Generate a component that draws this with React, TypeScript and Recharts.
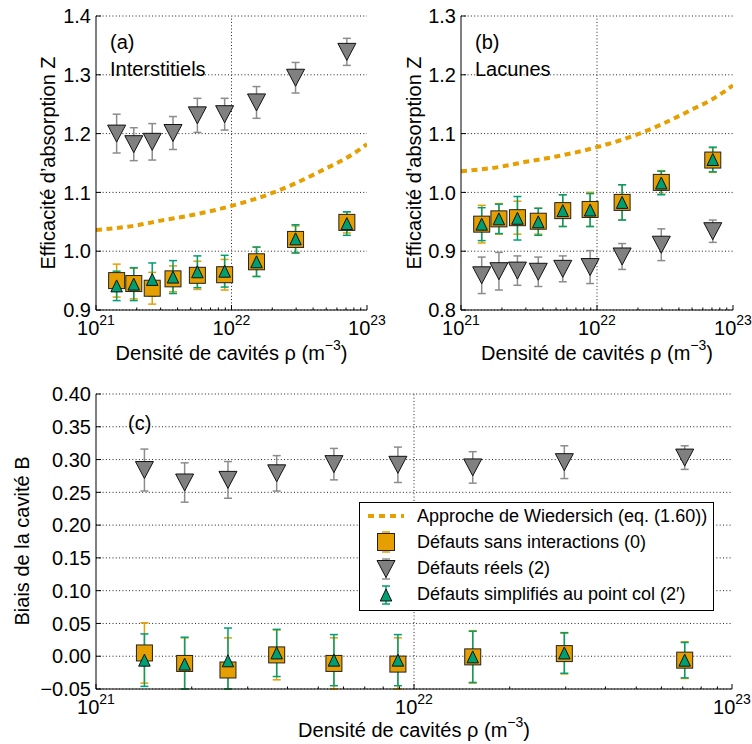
import React from 'react';
import { ComposedChart, Scatter, Line, XAxis, YAxis, CartesianGrid, ErrorBar, ReferenceLine, Legend } from 'recharts';

const FONT = '"Liberation Sans", Arial, Helvetica, sans-serif';
const FS = 20;
const ORANGE = '#E69F00';
const TEAL = '#009E73';
const GRAY = '#808080';
const ERR_GRAY = '#8c8c8c';

// cavity densities (m^-3)
const densities = [1.42e21, 1.9e21, 2.6e21, 3.7e21, 5.6e21, 8.9e21, 1.53e22, 2.97e22, 7.1e22];

// (a) Interstitiels
const zA_sans = [0.950, 0.945, 0.937, 0.953, 0.959, 0.960, 0.982, 1.020, 1.049];
const zA_sansErr = [0.028, 0.026, 0.027, 0.022, 0.024, 0.026, 0.025, 0.023, 0.018];
const zA_reels = [1.200, 1.182, 1.186, 1.201, 1.231, 1.233, 1.253, 1.295, 1.339];
const zA_reelsErr = [0.033, 0.028, 0.031, 0.028, 0.029, 0.027, 0.027, 0.026, 0.023];
const zA_col = [0.941, 0.944, 0.952, 0.956, 0.965, 0.966, 0.982, 1.021, 1.047];
const zA_colErr = [0.025, 0.028, 0.028, 0.028, 0.027, 0.027, 0.025, 0.024, 0.020];

// (b) Lacunes
const zB_sans = [0.946, 0.955, 0.957, 0.951, 0.969, 0.971, 0.983, 1.017, 1.055];
const zB_sansErr = [0.032, 0.026, 0.028, 0.022, 0.027, 0.029, 0.030, 0.020, 0.021];
const zB_reels = [0.859, 0.866, 0.867, 0.865, 0.870, 0.873, 0.891, 0.911, 0.934];
const zB_reelsErr = [0.031, 0.032, 0.025, 0.025, 0.022, 0.028, 0.022, 0.027, 0.019];
const zB_col = [0.946, 0.955, 0.956, 0.950, 0.969, 0.970, 0.983, 1.016, 1.056];
const zB_colErr = [0.028, 0.025, 0.037, 0.023, 0.027, 0.028, 0.030, 0.020, 0.021];

// (c) Biais
const bC_sans = [0.005, -0.011, -0.021, 0.002, -0.011, -0.012, -0.001, 0.004, -0.006];
const bC_sansErr = [0.046, 0.039, 0.049, 0.038, 0.039, 0.040, 0.040, 0.031, 0.028];
const bC_reels = [0.284, 0.265, 0.269, 0.279, 0.293, 0.292, 0.288, 0.296, 0.303];
const bC_reelsErr = [0.032, 0.030, 0.028, 0.027, 0.024, 0.027, 0.024, 0.025, 0.018];
const bC_col = [-0.006, -0.012, -0.007, 0.005, -0.006, -0.006, -0.001, 0.005, -0.006];
const bC_colErr = [0.040, 0.041, 0.050, 0.036, 0.039, 0.039, 0.039, 0.031, 0.027];

// Wiedersich approach (eq. 1.60)
const wiedX = [1e21, 2e21, 3e21, 5e21, 1e22, 2e22, 3e22, 5e22, 7e22, 1e23];
const wiedZ = [1.036, 1.044, 1.052, 1.061, 1.077, 1.099, 1.116, 1.141, 1.158, 1.182];

const majorTicks = [1e21, 1e22, 1e23];
const minorTicks = [2e21, 3e21, 4e21, 5e21, 6e21, 7e21, 8e21, 9e21, 2e22, 3e22, 4e22, 5e22, 6e22, 7e22, 8e22, 9e22];
const xTicks = [...majorTicks, ...minorTicks].sort((a, b) => a - b);
const yTicksA = [0.9, 1.0, 1.1, 1.2, 1.3, 1.4];
const yTicksB = [0.8, 0.9, 1.0, 1.1, 1.2, 1.3];
const yTicksC = [-0.05, 0.0, 0.05, 0.10, 0.15, 0.20, 0.25, 0.30, 0.35, 0.40];

const legendNames = [
  'Approche de Wiedersich (eq. (1.60))',
  'Défauts sans interactions (0)',
  'Défauts réels (2)',
  'Défauts simplifiés au point col (2\u2032)',
];

const pts = (ys: number[], errs: number[]) => densities.map((x, i) => ({ x, val: ys[i], err: errs[i] }));
const wiedData = wiedX.map((x, i) => ({ x, z: wiedZ[i] }));

const isMajor = (v: number) => Math.abs(Math.log10(v) - Math.round(Math.log10(v))) < 1e-6;
const fmt1 = (v: number) => v.toFixed(1);
const fmt2 = (v: number) => (v < -1e-9 ? '\u2212' : '') + Math.abs(v).toFixed(2);

const XTickBottom = (p: any) => {
  const { x, y, payload } = p;
  const v = payload.value;
  const major = isMajor(v);
  return (
    <g>
      <line x1={x} x2={x} y1={y} y2={y - (major ? 5 : 2.5)} stroke="#000" strokeWidth={1} />
      {major && (
        <text x={x} y={y + 24.5} textAnchor="middle" fontSize={FS} fontFamily={FONT} fill="#000">
          <tspan>10</tspan>
          <tspan dy={-9.5} fontSize={14}>{Math.round(Math.log10(v))}</tspan>
        </text>
      )}
    </g>
  );
};
const XTickTop = (p: any) => {
  const { x, y, payload } = p;
  const major = isMajor(payload.value);
  return <line x1={x} x2={x} y1={y} y2={y + (major ? 5 : 2.5)} stroke="#000" strokeWidth={1} />;
};
const YTickLeft = (p: any) => {
  const { x, y, payload, fmt } = p;
  return (
    <g>
      <line x1={x} x2={x + 5} y1={y} y2={y} stroke="#000" strokeWidth={1} />
      <text x={x - 5} y={y} dy="0.36em" textAnchor="end" fontSize={FS} fontFamily={FONT} fill="#000">
        {fmt(payload.value)}
      </text>
    </g>
  );
};
const YTickRight = (p: any) => {
  const { x, y } = p;
  return <line x1={x} x2={x - 5} y1={y} y2={y} stroke="#000" strokeWidth={1} />;
};

const SquareShape = (p: any) => {
  const { cx, cy } = p;
  const s = 16;
  return <rect x={cx - s / 2} y={cy - s / 2} width={s} height={s} fill={ORANGE} stroke="#222" strokeWidth={1} />;
};
const TriDownShape = (p: any) => {
  const { cx, cy } = p;
  const w = 18, h = 17;
  return <path d={`M${cx - w / 2},${cy - h / 2}L${cx + w / 2},${cy - h / 2}L${cx},${cy + h / 2}Z`} fill={GRAY} stroke="#111" strokeWidth={1} />;
};
const TriUpShape = (p: any) => {
  const { cx, cy } = p;
  const w = 11.5, h = 12;
  return <path d={`M${cx},${cy - h / 2}L${cx + w / 2},${cy + h / 2}L${cx - w / 2},${cy + h / 2}Z`} fill={TEAL} stroke="#111" strokeWidth={1} />;
};

const LegendBox = () => {
  const sample = (i: number) => {
    const cx = 26, cy = 13;
    if (i === 0) return <line x1={8} x2={44} y1={cy} y2={cy} stroke={ORANGE} strokeWidth={4} strokeDasharray="6 5" />;
    const eb = (c: string, h: number) => (
      <g stroke={c} strokeWidth={1.5}>
        <line x1={cx} x2={cx} y1={cy - h} y2={cy + h} />
        <line x1={cx - 4} x2={cx + 4} y1={cy - h} y2={cy - h} />
        <line x1={cx - 4} x2={cx + 4} y1={cy + h} y2={cy + h} />
      </g>
    );
    if (i === 1) return <g>{eb(ORANGE, 10)}<rect x={cx - 8.5} y={cy - 8.5} width={17} height={17} fill={ORANGE} stroke="#222" /></g>;
    if (i === 2) return <g>{eb(ERR_GRAY, 10)}<path d={`M${cx - 9},${cy - 8.5}L${cx + 9},${cy - 8.5}L${cx},${cy + 8.5}Z`} fill={GRAY} stroke="#111" /></g>;
    return <g>{eb(TEAL, 9)}<path d={`M${cx},${cy - 6}L${cx + 5.75},${cy + 6}L${cx - 5.75},${cy + 6}Z`} fill={TEAL} stroke="#111" /></g>;
  };
  return (
    <div style={{ width: 355, height: 109, border: '1px solid #000', background: '#fff', boxSizing: 'border-box', position: 'relative', fontFamily: FONT, fontSize: 18, color: '#000' }}>
      {legendNames.map((name, i) => (
        <div key={i} style={{ position: 'absolute', left: 0, top: i * 26.3, height: 26, display: 'flex', alignItems: 'center', whiteSpace: 'nowrap' }}>
          <svg width={52} height={26} style={{ display: 'block' }}>{sample(i)}</svg>
          <span style={{ marginLeft: 5 }}>{name}</span>
        </div>
      ))}
    </div>
  );
};

type PanelProps = {
  width: number; height: number; margin: any; xH: number; yDomain: [number, number]; yTicks: number[]; yFmt: (v: number) => string;
  sans: any[]; reels: any[]; col: any[]; wied?: any[]; legend?: boolean;
};

// error bar extent limited to the visible y range (the reference clips bars at the frame)
const clippedErr = (lo: number, hi: number) => (d: any) => {
  const v = d.val;
  return [Math.max(0, Math.min(d.err, v - lo)), Math.max(0, Math.min(d.err, hi - v))];
};

const Panel = ({ width, height, margin, xH, yDomain, yTicks, yFmt, sans, reels, col, wied, legend }: PanelProps) => {
  const ek = clippedErr(yDomain[0], yDomain[1]);
  return (
    <ComposedChart width={width} height={height} margin={margin}>
      <CartesianGrid xAxisId="b" yAxisId="l" vertical={false} stroke="#222" strokeDasharray="1 2.3" />
      <ReferenceLine xAxisId="b" yAxisId="l" x={1e22} stroke="#222" strokeDasharray="1 2.3" />
      <XAxis xAxisId="b" dataKey="x" type="number" scale="log" domain={[1e21, 1e23]} allowDataOverflow ticks={xTicks} interval={0}
        tick={<XTickBottom />} tickLine={false} tickSize={0} tickMargin={0} axisLine={{ stroke: '#000' }} height={xH} orientation="bottom" />
      <XAxis xAxisId="t" dataKey="x" type="number" scale="log" domain={[1e21, 1e23]} allowDataOverflow ticks={xTicks} interval={0}
        tick={<XTickTop />} tickLine={false} tickSize={0} tickMargin={0} axisLine={{ stroke: '#000' }} height={0} orientation="top" />
      <YAxis yAxisId="l" type="number" domain={yDomain} allowDataOverflow ticks={yTicks} interval={0}
        tick={<YTickLeft fmt={yFmt} />} tickLine={false} tickSize={0} tickMargin={0} axisLine={{ stroke: '#000' }} width={60} orientation="left" />
      <YAxis yAxisId="r" type="number" domain={yDomain} allowDataOverflow ticks={yTicks} interval={0}
        tick={<YTickRight />} tickLine={false} tickSize={0} tickMargin={0} axisLine={{ stroke: '#000' }} width={0} orientation="right" />
      {wied && (
        <Line xAxisId="b" yAxisId="l" data={wied} dataKey="z" type="monotone" dot={false} stroke={ORANGE} strokeWidth={4}
          strokeDasharray="6 4.5" isAnimationActive={false} legendType="none" />
      )}
      <Scatter xAxisId="b" yAxisId="l" data={sans} dataKey="val" shape={SquareShape} isAnimationActive={false}>
        <ErrorBar dataKey={ek} direction="y" width={4} stroke={ORANGE} strokeWidth={1.5} />
      </Scatter>
      <Scatter xAxisId="b" yAxisId="l" data={reels} dataKey="val" shape={TriDownShape} isAnimationActive={false}>
        <ErrorBar dataKey={ek} direction="y" width={4} stroke={ERR_GRAY} strokeWidth={1.5} />
      </Scatter>
      <Scatter xAxisId="b" yAxisId="l" data={col} dataKey="val" shape={TriUpShape} isAnimationActive={false}>
        <ErrorBar dataKey={ek} direction="y" width={4} stroke={TEAL} strokeWidth={1.5} />
      </Scatter>
      {legend && (
        <Legend content={() => <LegendBox />} layout="horizontal" verticalAlign="middle" align="center"
          wrapperStyle={{ left: 359, top: 132, width: 355, height: 109 }} />
      )}
    </ComposedChart>
  );
};

const XLabel = ({ x, y }: { x: number; y: number }) => (
  <text x={x} y={y} textAnchor="middle" fontSize={FS} fontFamily={FONT} fill="#000">
    <tspan>Densité de cavités ρ (m</tspan>
    <tspan dy={-10} fontSize={14}>{'\u22123'}</tspan>
    <tspan dy={10}>)</tspan>
  </text>
);
const YLabel = ({ x, y, text }: { x: number; y: number; text: string }) => (
  <text x={x} y={y} transform={`rotate(-90 ${x} ${y})`} textAnchor="middle" dominantBaseline="central" fontSize={FS} fontFamily={FONT} fill="#000">
    {text}
  </text>
);
const Note = ({ x, y, text }: { x: number; y: number; text: string }) => (
  <text x={x} y={y} fontSize={FS} fontFamily={FONT} fill="#000">{text}</text>
);

export default function App() {
  return (
    <div style={{ position: 'absolute', left: 0, top: 0, width: 752, height: 744, background: '#fff', overflow: 'hidden' }}>
      <div style={{ position: 'absolute', left: 0, top: 0 }}>
        <Panel width={400} height={370} margin={{ top: 16, right: 33, bottom: 0, left: 36 }} xH={60}
          yDomain={[0.9, 1.4]} yTicks={yTicksA} yFmt={fmt1}
          sans={pts(zA_sans, zA_sansErr)} reels={pts(zA_reels, zA_reelsErr)} col={pts(zA_col, zA_colErr)} wied={wiedData} />
      </div>
      <div style={{ position: 'absolute', left: 376, top: 0 }}>
        <Panel width={376} height={370} margin={{ top: 16, right: 19, bottom: 0, left: 25 }} xH={60}
          yDomain={[0.8, 1.3]} yTicks={yTicksB} yFmt={fmt1}
          sans={pts(zB_sans, zB_sansErr)} reels={pts(zB_reels, zB_reelsErr)} col={pts(zB_col, zB_colErr)} wied={wiedData} />
      </div>
      <div style={{ position: 'absolute', left: 0, top: 370 }}>
        <Panel width={752} height={374} margin={{ top: 24, right: 20, bottom: 0, left: 36 }} xH={55}
          yDomain={[-0.05, 0.4]} yTicks={yTicksC} yFmt={fmt2}
          sans={pts(bC_sans, bC_sansErr)} reels={pts(bC_reels, bC_reelsErr)} col={pts(bC_col, bC_colErr)} legend />
      </div>
      <svg width={752} height={744} style={{ position: 'absolute', left: 0, top: 0, pointerEvents: 'none' }}>
        <YLabel x={48} y={163} text="Efficacité d’absorption Z" />
        <YLabel x={414} y={163} text="Efficacité d’absorption Z" />
        <YLabel x={22} y={541} text="Biais de la cavité B" />
        <XLabel x={231.5} y={359.5} />
        <XLabel x={597} y={359.5} />
        <XLabel x={414} y={737} />
        <Note x={110} y={49} text="(a)" />
        <Note x={110} y={76} text="Interstitiels" />
        <Note x={475} y={49} text="(b)" />
        <Note x={475} y={76} text="Lacunes" />
        <Note x={128} y={430} text="(c)" />
      </svg>
    </div>
  );
}
